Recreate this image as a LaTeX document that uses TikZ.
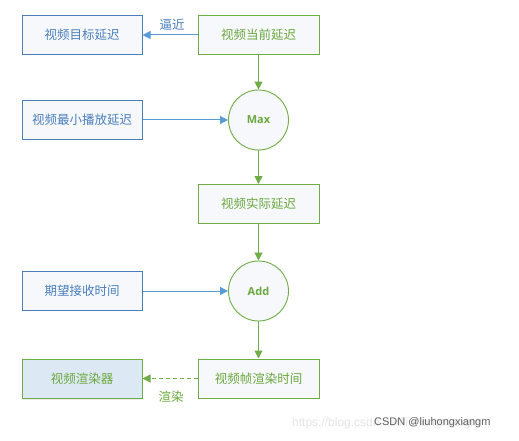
\documentclass[tikz,border=0pt]{standalone}
\usepackage{fontspec}
\newfontfamily\cjk{Noto Sans CJK SC}
\newfontfamily\latinb{Open Sans}
\newfontfamily\wm{Liberation Sans}
\usetikzlibrary{arrows.meta,shadows}
\definecolor{bluebd}{HTML}{4A7EBB}
\definecolor{bluetx}{HTML}{4A7EBB}
\definecolor{bluear}{HTML}{5B9BD5}
\definecolor{greenbd}{HTML}{70AD47}
\definecolor{greentx}{HTML}{6AA83D}
\definecolor{boxfill}{HTML}{F6F8FC}
\definecolor{rendfill}{HTML}{DDE8F5}
\tikzset{
  bbox/.style={draw=bluebd,line width=1pt,fill=boxfill,minimum width=120pt,minimum height=39pt,inner sep=0pt,text=bluetx,font=\cjk\fontsize{12.5}{14}\selectfont},
  gbox/.style={draw=greenbd,line width=1pt,fill=boxfill,minimum width=121pt,minimum height=39pt,inner sep=0pt,text=greentx,font=\cjk\fontsize{12.5}{14}\selectfont},
  gcirc/.style={circle,draw=greenbd,line width=0.9pt,fill=boxfill,minimum size=60pt,inner sep=0pt,text=greentx,font=\latinb\bfseries\fontsize{11}{13}\selectfont},
  garrow/.style={draw=greenbd,line width=1pt,-{Triangle[length=8pt,width=8pt]}},
  barrow/.style={draw=bluear,line width=1pt,-{Triangle[length=8pt,width=8pt]}},
  lbl/.style={font=\cjk\fontsize{12.5}{14}\selectfont,inner sep=0pt},
}
\begin{document}
\begin{tikzpicture}[x=1pt,y=-1pt]
\useasboundingbox[fill=white] (0,0) rectangle (519,441);
\node[bbox] (target) at (82,35) {视频目标延迟};
\node[gbox] (current) at (258.5,35) {视频当前延迟};
\node[gcirc] (max) at (258.5,120) {Max};
\node[bbox] (minplay) at (82,120) {视频最小播放延迟};
\node[gbox] (actual) at (258.5,204) {视频实际延迟};
\node[gcirc] (add) at (258.5,291) {Add};
\node[bbox] (expect) at (82,291) {期望接收时间};
\node[gbox,draw=greenbd,fill=rendfill,minimum width=120pt,drop shadow={shadow xshift=1pt,shadow yshift=-2pt,opacity=0.15}] (renderer) at (82,378.5) {视频渲染器};
\node[gbox] (frame) at (258.5,378.5) {视频帧渲染时间};
\draw[barrow] (current) -- (target);
\node[lbl,text=bluetx] (bijin) at (172,25) {逼近};
\draw[garrow] (current) -- (max);
\draw[barrow] (minplay) -- (max);
\draw[garrow] (max) -- (actual);
\draw[garrow] (actual) -- (add);
\draw[barrow] (expect) -- (add);
\draw[garrow] (add) -- (frame);
\draw[garrow,dash pattern=on 4pt off 3pt] (frame) -- (renderer);
\node[lbl,text=greentx] (xuanran) at (171,397) {渲染};
\node[font=\wm\fontsize{12}{14}\selectfont,text=black!10,anchor=west,inner sep=0pt] (wm1) at (292,423) {https://blog.csdn.net/liuhongxiangm};
\node[font=\wm\fontsize{11}{13}\selectfont,text=black!62,anchor=west,inner sep=0pt] (wm2) at (374,423) {CSDN @liuhongxiangm};
\end{tikzpicture}
\end{document}
